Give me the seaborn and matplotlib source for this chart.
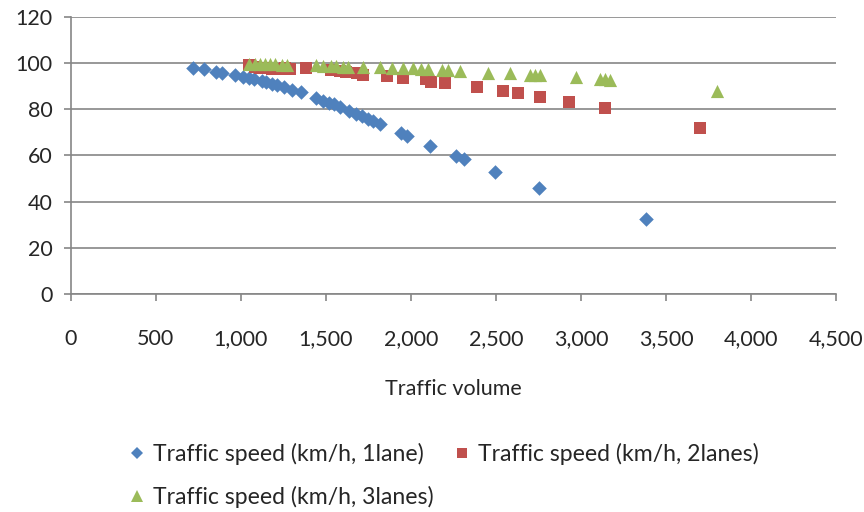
import pandas as pd
import matplotlib.pyplot as plt
import seaborn as sns
from matplotlib.ticker import StrMethodFormatter, MultipleLocator
from matplotlib.lines import Line2D

# Values
volume_1lane = [718, 782, 853, 888, 965, 1012, 1047, 1076, 1124, 1147, 1182, 1212,
                1253, 1300, 1353, 1441, 1482, 1518, 1547, 1582, 1635, 1676, 1712,
                1747, 1776, 1818, 1941, 1976, 2112, 2265, 2312, 2494, 2753, 3382]
speed_1lane = [97.8, 97.4, 96.1, 95.7, 94.8, 93.9, 93.5, 93.1, 92.2, 91.8, 90.9, 90.5,
               89.6, 88.3, 87.4, 84.8, 83.5, 82.7, 82.3, 81.0, 79.2, 77.9, 77.1,
               75.8, 74.9, 73.6, 69.7, 68.4, 64.1, 59.7, 58.4, 52.8, 45.9, 32.3]

volume_2lanes = [1050, 1080, 1110, 1150, 1180, 1220, 1260, 1290, 1380, 1530, 1580,
                 1620, 1680, 1720, 1860, 1950, 2090, 2120, 2200, 2390, 2540, 2630,
                 2760, 2930, 3140, 3700]
speed_2lanes = [99.0, 98.5, 98.0, 98.0, 97.5, 97.5, 98.0, 97.5, 98.0, 97.0, 96.5,
                96.0, 95.5, 95.0, 94.5, 93.5, 93.0, 92.0, 91.5, 89.5, 88.0, 87.0,
                85.5, 83.0, 80.5, 71.7]

volume_3lanes = [1050, 1080, 1110, 1140, 1170, 1200, 1240, 1270, 1440, 1480, 1530,
                 1560, 1600, 1630, 1720, 1820, 1890, 1950, 2010, 2060, 2100, 2180,
                 2220, 2290, 2450, 2580, 2700, 2730, 2760, 2970, 3110, 3140, 3170, 3800]
speed_3lanes = [99.5, 99.5, 99.5, 99.5, 99.5, 99.5, 99.3, 99.0, 99.0, 98.8, 98.8,
                98.6, 98.5, 98.5, 98.3, 98.1, 97.9, 97.9, 97.9, 97.6, 97.4, 97.0,
                97.0, 96.5, 95.9, 95.5, 95.0, 95.0, 94.8, 93.8, 93.0, 93.0, 92.8, 88.0]

labels = ['Traffic speed (km/h, 1lane)', 'Traffic speed (km/h, 2lanes)',
          'Traffic speed (km/h, 3lanes)']
colors = ['#4F81BD', '#C0504D', '#9BBB59']
markers = ['D', 's', '^']
sizes = [55, 75, 90]

sns.set_style('white')
plt.rcParams['font.family'] = ['Lato', 'DejaVu Sans']

fig = plt.figure(figsize=(8.64, 5.12), dpi=100)
ax = fig.add_axes([0.082, 0.426, 0.886, 0.541])

series = [(volume_1lane, speed_1lane), (volume_2lanes, speed_2lanes),
          (volume_3lanes, speed_3lanes)]
for (vol, spd), lab, col, mk, sz in zip(series, labels, colors, markers, sizes):
    df = pd.DataFrame({'volume': vol, 'speed': spd})
    sns.scatterplot(data=df, x='volume', y='speed', ax=ax, color=col, marker=mk,
                    s=sz, linewidth=0, zorder=3, legend=False)

ax.set_xlim(0, 4500)
ax.set_ylim(0, 120)
ax.xaxis.set_major_locator(MultipleLocator(500))
ax.yaxis.set_major_locator(MultipleLocator(20))
ax.xaxis.set_major_formatter(StrMethodFormatter('{x:,.0f}'))
ax.yaxis.grid(True, color='#868686', linewidth=1.2)
ax.set_axisbelow(True)
for side in ['top', 'right']:
    ax.spines[side].set_visible(False)
for side in ['left', 'bottom']:
    ax.spines[side].set_color('#868686')
    ax.spines[side].set_linewidth(1.2)
ax.tick_params(axis='x', direction='out', length=5, color='#868686', width=1.2,
               labelsize=15.5, pad=20, bottom=True)
ax.tick_params(axis='y', direction='out', length=5, color='#868686', width=1.2,
               labelsize=15.5, pad=8, left=True)
ax.set_xlabel('Traffic volume', fontsize=15.5, labelpad=22)
ax.set_ylabel('')

handles = [Line2D([], [], linestyle='none', marker=mk, color=col, markersize=ms,
                  markeredgewidth=0)
           for mk, col, ms in zip(markers, colors, [6, 7, 8])]
# column-wise filling: put series 3 under series 1
order = [0, 2, 1]
fig.legend([handles[i] for i in order], [labels[i] for i in order],
           loc='upper left', bbox_to_anchor=(0.148, 0.135),
           ncol=2, frameon=False, fontsize=16.6, handlelength=0.8,
           handletextpad=0.3, columnspacing=0.8, labelspacing=0.9,
           borderaxespad=0, borderpad=0)

plt.savefig('out.png', dpi=100)
plt.close()
